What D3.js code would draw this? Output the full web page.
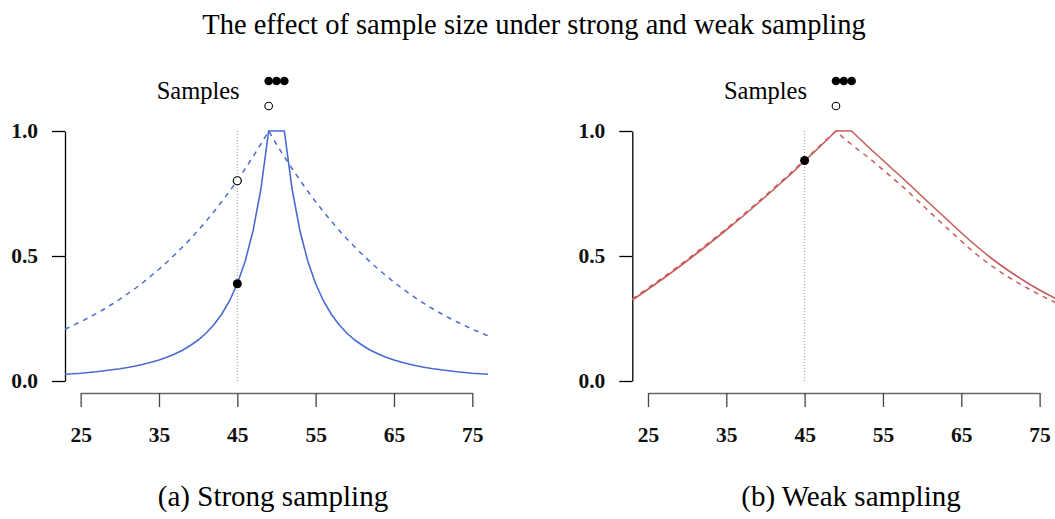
<!DOCTYPE html>
<html>
<head>
<meta charset="utf-8">
<script src="https://cdn.jsdelivr.net/npm/d3@7"></script>
<style>
  html, body { margin: 0; padding: 0; background: #fff; overflow: hidden; }
  svg { display: block; }
  text { font-family: "Liberation Serif", "Times New Roman", serif; }
</style>
</head>
<body>
<svg id="chart" width="1055" height="519"></svg>
<script>
// ---------- data ----------
const xValues = d3.range(23, 78); // 23..77
const xTicks = [25, 35, 45, 55, 65, 75];
const yTicks = [0, 0.5, 1.0];

const strongThreeSamples = [
  0.027, 0.029, 0.031, 0.034, 0.037, 0.041, 0.045, 0.049, 0.054, 0.060,
  0.067, 0.075, 0.084, 0.095, 0.108, 0.123, 0.142, 0.164, 0.191, 0.225,
  0.267, 0.320, 0.389, 0.479, 0.600, 0.766, 1, 1, 1, 0.766,
  0.600, 0.479, 0.389, 0.320, 0.267, 0.225, 0.191, 0.164, 0.142, 0.123,
  0.108, 0.095, 0.084, 0.075, 0.067, 0.060, 0.054, 0.049, 0.045, 0.041,
  0.037, 0.034, 0.031, 0.029, 0.027
];
const strongOneSample = [
  0.207, 0.222, 0.237, 0.253, 0.270, 0.288, 0.307, 0.327, 0.349, 0.371,
  0.395, 0.421, 0.447, 0.475, 0.505, 0.536, 0.568, 0.603, 0.639, 0.677,
  0.717, 0.759, 0.801, 0.849, 0.897, 0.947, 1, 0.947, 0.897, 0.849,
  0.803, 0.759, 0.717, 0.677, 0.639, 0.603, 0.568, 0.536, 0.505, 0.475,
  0.447, 0.421, 0.395, 0.371, 0.349, 0.327, 0.307, 0.288, 0.270, 0.253,
  0.237, 0.222, 0.207, 0.194, 0.181
];
const weakThreeSamples = [
  0.324, 0.345, 0.367, 0.389, 0.411, 0.434, 0.457, 0.481, 0.505, 0.529,
  0.554, 0.579, 0.604, 0.630, 0.656, 0.683, 0.710, 0.737, 0.765, 0.793,
  0.821, 0.850, 0.882, 0.909, 0.939, 0.969, 1, 1, 1, 0.970,
  0.940, 0.911, 0.883, 0.854, 0.826, 0.797, 0.768, 0.738, 0.709, 0.680,
  0.651, 0.622, 0.593, 0.565, 0.538, 0.512, 0.487, 0.464, 0.442, 0.421,
  0.401, 0.382, 0.364, 0.347, 0.331
];
const weakOneSample = [
  0.328, 0.350, 0.372, 0.394, 0.416, 0.439, 0.462, 0.486, 0.510, 0.534,
  0.559, 0.584, 0.609, 0.635, 0.661, 0.688, 0.715, 0.742, 0.770, 0.798,
  0.826, 0.855, 0.886, 0.913, 0.943, 0.972, 1, 0.971, 0.946, 0.921,
  0.897, 0.872, 0.845, 0.818, 0.791, 0.764, 0.734, 0.705, 0.675, 0.646,
  0.617, 0.588, 0.560, 0.531, 0.505, 0.481, 0.458, 0.436, 0.416, 0.397,
  0.379, 0.362, 0.345, 0.329, 0.314
];

const queryX = 45;
const strongQueryThree = 0.389;
const strongQueryOne = 0.801;
const weakQueryThree = 0.882;
const sampleXs = [49, 50, 51];
const sampleThreeY = 1.2;
const sampleOneY = 1.1;

const titleText = "The effect of sample size under strong and weak sampling";
const captions = ["(a) Strong sampling", "(b) Weak sampling"];

// ---------- drawing ----------
const svg = d3.select("#chart");

svg.append("text")
  .attr("x", 534).attr("y", 34)
  .attr("text-anchor", "middle")
  .attr("font-size", 28.5)
  .attr("fill", "#000")
  .text(titleText);

const panels = [
  { left: 65, solid: strongThreeSamples, dashed: strongOneSample, color: "#4a6bd2",
    filled: strongQueryThree, open: strongQueryOne, caption: captions[0], capX: 273 },
  { left: 632.3, solid: weakThreeSamples, dashed: weakOneSample, color: "#c65c5c",
    filled: weakQueryThree, open: null, caption: captions[1], capX: 851 }
];

const pxPerUnit = 7.833;

panels.forEach(p => {
  const x = d3.scaleLinear().domain([23, 77]).range([p.left, p.left + 54 * pxPerUnit]);
  const y = d3.scaleLinear().domain([0, 1]).range([381, 131]);
  const g = svg.append("g");

  // y axis
  const yAxis = d3.axisLeft(y).tickValues(yTicks).tickFormat(d3.format(".1f"))
    .tickSize(13).tickSizeOuter(0).tickPadding(14);
  const ya = g.append("g").attr("transform", `translate(${p.left},0)`).call(yAxis);
  ya.select(".domain").attr("stroke", "#000").attr("stroke-width", 1.3);
  ya.selectAll(".tick line").attr("stroke", "#000").attr("stroke-width", 1.3);
  ya.selectAll("text").attr("font-size", 21.5).attr("font-weight", "bold")
    .attr("font-family", "Liberation Serif, serif").attr("fill", "#111");

  // x axis (spans 25..75)
  const xa = d3.scaleLinear().domain([25, 75]).range([x(25), x(75)]);
  const xAxis = d3.axisBottom(xa).tickValues(xTicks).tickFormat(d3.format("d"))
    .tickSize(14).tickSizeOuter(0).tickPadding(20);
  const xg = g.append("g").attr("transform", "translate(0,393)").call(xAxis);
  xg.select(".domain").attr("stroke", "#666").attr("stroke-width", 1.6);
  xg.selectAll(".tick line").attr("stroke", "#444").attr("stroke-width", 1.3);
  xg.selectAll("text").attr("font-size", 21.5).attr("font-weight", "bold")
    .attr("font-family", "Liberation Serif, serif").attr("fill", "#111");

  // dotted query line
  g.append("line")
    .attr("x1", x(queryX)).attr("x2", x(queryX))
    .attr("y1", y(1)).attr("y2", y(0))
    .attr("stroke", "#999").attr("stroke-width", 1)
    .attr("stroke-dasharray", "1,2");

  const line = d3.line().x((d, i) => x(xValues[i])).y(d => y(d));

  g.append("path").datum(p.dashed)
    .attr("d", line).attr("fill", "none")
    .attr("stroke", p.color).attr("stroke-width", 1.5)
    .attr("stroke-dasharray", "5,5");

  g.append("path").datum(p.solid)
    .attr("d", line).attr("fill", "none")
    .attr("stroke", p.color).attr("stroke-width", 1.6);

  // query points
  if (p.open !== null) {
    g.append("circle").attr("cx", x(queryX)).attr("cy", y(p.open)).attr("r", 4)
      .attr("fill", "#fff").attr("stroke", "#000").attr("stroke-width", 1.2);
  }
  g.append("circle").attr("cx", x(queryX)).attr("cy", y(p.filled)).attr("r", 4.5)
    .attr("fill", "#000");

  // samples legend
  g.append("text")
    .attr("x", x(49) - 29).attr("y", 99)
    .attr("text-anchor", "end")
    .attr("font-size", 24.5)
    .attr("fill", "#000")
    .text("Samples");
  g.selectAll(".samp").data(sampleXs).enter().append("circle")
    .attr("cx", d => x(d)).attr("cy", y(sampleThreeY)).attr("r", 4.3)
    .attr("fill", "#000");
  g.append("circle").attr("cx", x(sampleXs[0])).attr("cy", y(sampleOneY)).attr("r", 3.8)
    .attr("fill", "#fff").attr("stroke", "#000").attr("stroke-width", 1.1);

  // caption
  svg.append("text")
    .attr("x", p.capX).attr("y", 506)
    .attr("text-anchor", "middle")
    .attr("font-size", 29)
    .attr("fill", "#000")
    .text(p.caption);
});
</script>
</body>
</html>
